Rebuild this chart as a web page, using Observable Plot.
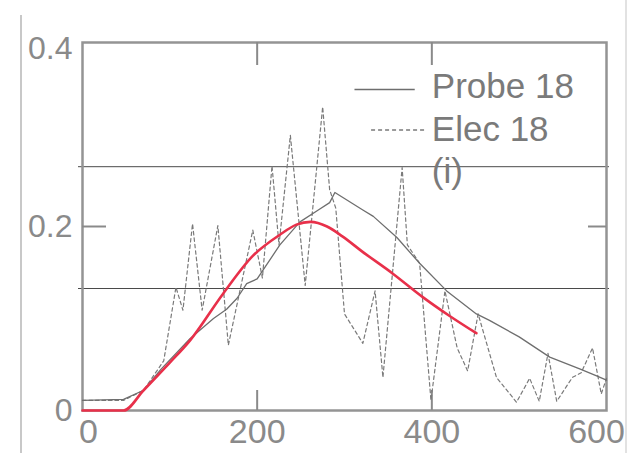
<!DOCTYPE html>
<html>
<head>
<meta charset="utf-8">
<script src="https://cdn.jsdelivr.net/npm/d3@7"></script>
<script src="https://cdn.jsdelivr.net/npm/@observablehq/plot@0.6"></script>
<style>
  html, body { margin: 0; padding: 0; background: #fff; }
  #wrap { position: relative; width: 628px; height: 453px; overflow: hidden; }
  .edge { position: absolute; background: #c8c8c8; width: 2px; }
</style>
</head>
<body>
<div id="wrap">
  <div class="edge" style="left:20px; top:15px; bottom:0;"></div>
  <div class="edge" style="left:625px; top:0; bottom:0; background:#e2e2e2;"></div>
</div>
<script>
// ---- data ----
const xTicks = [0, 200, 400, 600];
const yTicks = [0, 0.2, 0.4];
const innerXTicks = [200, 400];
const innerYTicks = [0.2];
const gridY = [0.1326, 0.265];

const probeX = [0, 47, 70, 90, 123, 150, 165, 177, 188, 200, 226, 249, 270, 283, 289, 321, 333, 360, 386, 417, 451, 466, 500, 535, 570, 588, 600];
const probeY = [0.011, 0.012, 0.022, 0.045, 0.078, 0.100, 0.110, 0.122, 0.138, 0.143, 0.180, 0.205, 0.218, 0.226, 0.237, 0.218, 0.211, 0.188, 0.160, 0.130, 0.105, 0.098, 0.080, 0.058, 0.045, 0.038, 0.033];

const elecX = [0, 47, 70, 93, 107, 115, 126, 137, 155, 167, 195, 206, 217, 225, 238, 255, 275, 283, 290, 300, 321, 335, 344, 366, 372, 386, 399, 415, 429, 441, 453, 474, 497, 512, 523, 533, 543, 561, 571, 584, 594, 600];
const elecY = [0.011, 0.011, 0.022, 0.054, 0.134, 0.109, 0.203, 0.109, 0.201, 0.071, 0.196, 0.144, 0.266, 0.180, 0.299, 0.136, 0.330, 0.240, 0.220, 0.105, 0.073, 0.130, 0.036, 0.264, 0.180, 0.160, 0.011, 0.130, 0.068, 0.043, 0.105, 0.036, 0.009, 0.035, 0.010, 0.062, 0.010, 0.036, 0.041, 0.068, 0.018, 0.035];

const redX = [0, 47, 70, 100, 123, 161, 195, 226, 245, 261, 280, 298, 320, 355, 390, 420, 451];
const redY = [0, 0, 0.022, 0.052, 0.076, 0.127, 0.168, 0.191, 0.202, 0.205, 0.200, 0.189, 0.173, 0.149, 0.123, 0.103, 0.084];

const legendLabels = ["Probe 18", "Elec 18", "(i)"];

// ---- tables ----
const probe = probeX.map((x, i) => ({x, y: probeY[i]}));
const elec = elecX.map((x, i) => ({x, y: elecY[i]}));
const red = redX.map((x, i) => ({x, y: redY[i]}));

const W = 628, H = 453, mL = 82, mR = 22, mT = 42, mB = 43;
const innerW = W - mL - mR, innerH = H - mT - mB;
const axisColor = "#8a8a8a";
const fmtY = d => d === 0 ? "0" : d.toFixed(1);

const chart = Plot.plot({
  width: W, height: H,
  marginLeft: mL, marginRight: mR, marginTop: mT, marginBottom: mB,
  x: {domain: [0, 600]},
  y: {domain: [0, 0.4]},
  style: {fontFamily: "'Liberation Sans', Arial, Helvetica, sans-serif", background: "transparent", overflow: "visible"},
  marks: [
    Plot.ruleY(gridY, {stroke: "#4a4a4a", strokeWidth: 1, insetLeft: -4, insetRight: -3}),
    // frame
    Plot.frame({stroke: "#949494", strokeWidth: 2.5}),
    // inward ticks
    Plot.ruleX(innerXTicks, {stroke: axisColor, strokeWidth: 2, insetBottom: innerH - 23}),
    Plot.ruleX(innerXTicks, {stroke: axisColor, strokeWidth: 2, insetTop: innerH - 20}),
    Plot.ruleY(innerYTicks, {stroke: axisColor, strokeWidth: 2, insetRight: innerW - 24}),
    Plot.ruleY(innerYTicks, {stroke: axisColor, strokeWidth: 2, insetLeft: innerW - 18}),
    // series
    Plot.line(elec, {x: "x", y: "y", stroke: "#7a7a7a", strokeWidth: 1.2, strokeDasharray: "3.5,3"}),
    Plot.line(probe, {x: "x", y: "y", stroke: "#6e6e6e", strokeWidth: 1.3}),
    Plot.line(red, {x: "x", y: "y", stroke: "#e8304a", strokeWidth: 2.6, curve: "monotone-x"}),
    // axes
    Plot.axisY(yTicks.filter(d => d < 0.4), {tickSize: 0, tickPadding: 10, fontSize: 32, fill: axisColor, tickFormat: fmtY, label: null}),
    Plot.axisY(yTicks.filter(d => d === 0.4), {tickSize: 0, tickPadding: 10, fontSize: 32, fill: axisColor, tickFormat: fmtY, dy: 6, label: null}),
    Plot.axisX(xTicks.filter(d => d === 0), {tickSize: 0, tickPadding: 8, fontSize: 34, fill: axisColor, dx: 6, label: null}),
    Plot.axisX(xTicks.filter(d => d > 0 && d < 600), {tickSize: 0, tickPadding: 8, fontSize: 34, fill: axisColor, label: null}),
    Plot.axisX(xTicks.filter(d => d === 600), {tickSize: 0, tickPadding: 8, fontSize: 34, fill: axisColor, dx: -10, label: null}),
    // legend
    Plot.ruleY([0.349], {x1: 312, x2: 381, stroke: "#6e6e6e", strokeWidth: 1.5}),
    Plot.ruleY([0.305], {x1: 331, x2: 392, stroke: "#7a7a7a", strokeWidth: 1.5, strokeDasharray: "4,3"}),
    Plot.text(legendLabels, {
      x: 400,
      y: (d, i) => 0.352 - i * 0.0465,
      text: d => d,
      textAnchor: "start",
      fontSize: 35,
      fill: "#7a7a7a"
    })
  ]
});

document.getElementById("wrap").appendChild(chart);
chart.style.position = "absolute";
chart.style.left = "0";
chart.style.top = "0";
</script>
</body>
</html>
